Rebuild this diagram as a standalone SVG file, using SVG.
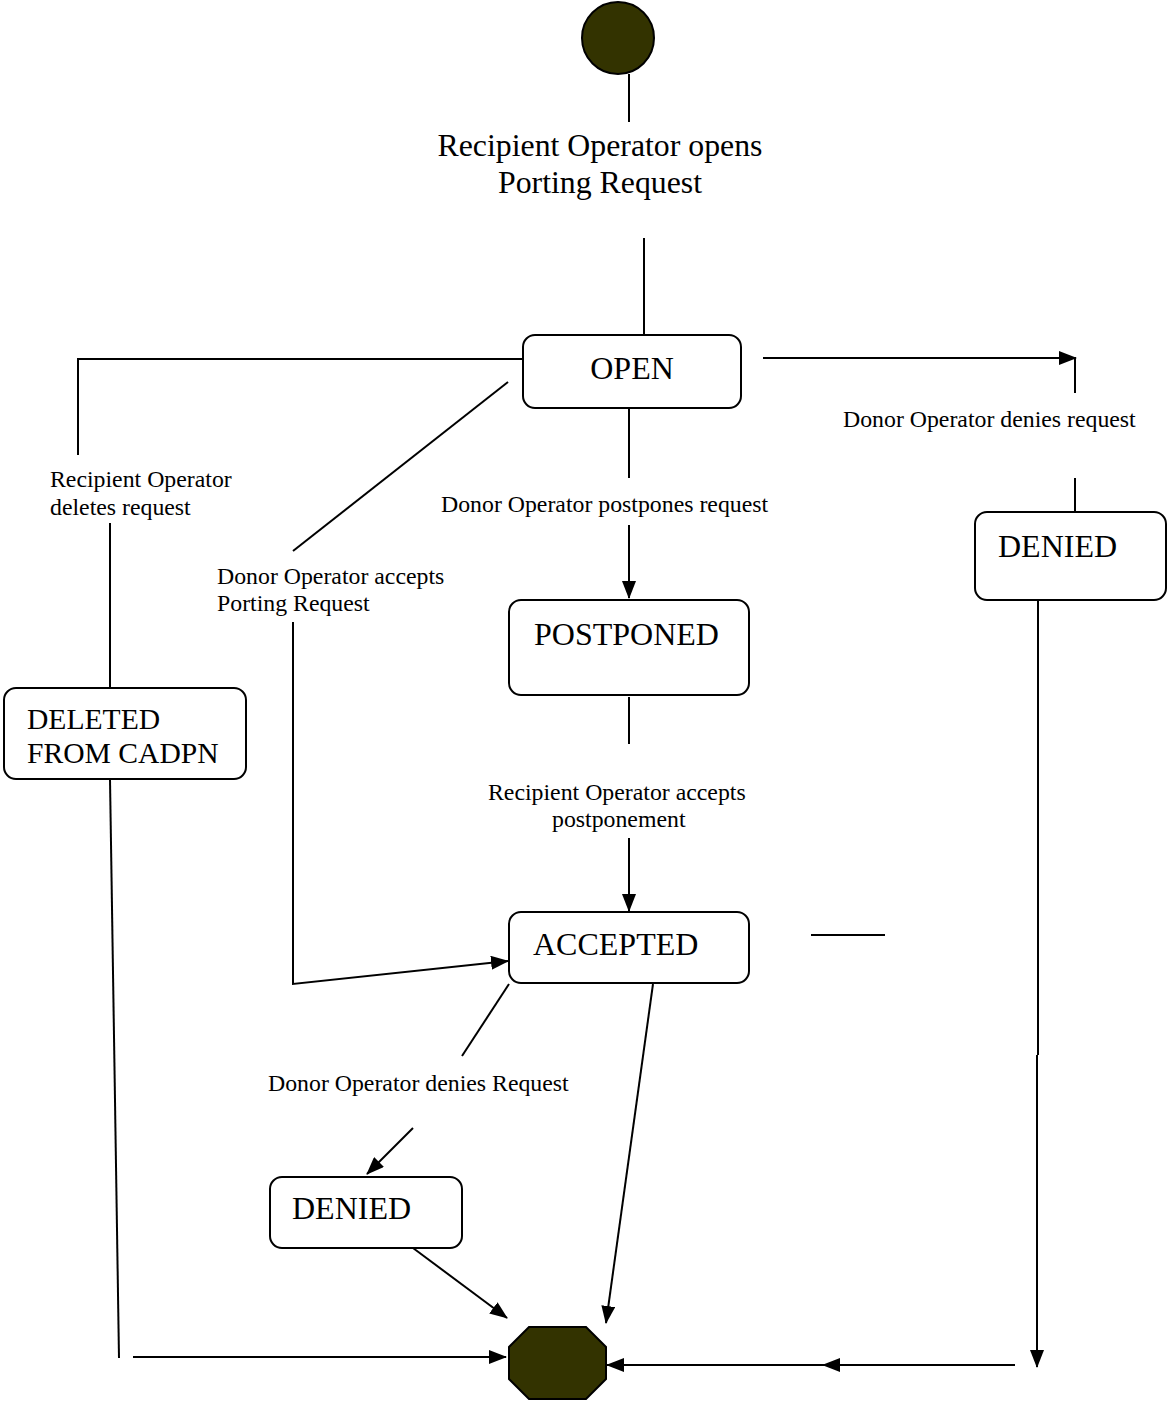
<svg xmlns="http://www.w3.org/2000/svg" width="1167" height="1402" viewBox="0 0 1167 1402">
<style>
.st{fill:#fff;stroke:#000;stroke-width:2}
.ln{fill:none;stroke:#000;stroke-width:2}
.big{font-family:"Liberation Serif",serif;font-size:31.8px;fill:#000}
.sm{font-family:"Liberation Serif",serif;font-size:23.8px;fill:#000}
.mid{font-family:"Liberation Serif",serif;font-size:32px;fill:#000}
.del{font-family:"Liberation Serif",serif;font-size:29.6px;fill:#000}
</style>
<defs>
<marker id="ah" markerWidth="18" markerHeight="14" refX="17" refY="7" orient="auto" markerUnits="userSpaceOnUse">
<path d="M0,0 L18,7 L0,14 Z" fill="#000"/>
</marker>
</defs>
<rect width="1167" height="1402" fill="#fff"/>

<g id="start">
<circle cx="618" cy="38" r="36" fill="#333300" stroke="#000" stroke-width="2"/>
</g>
<g id="label-open-request">
<text class="big" x="600" y="156" text-anchor="middle">Recipient Operator opens</text>
<text class="big" x="600" y="193" text-anchor="middle">Porting Request</text>
</g>

<g id="open">
<rect class="st" x="523" y="335" width="218" height="73" rx="12"/>
<text class="mid" x="632" y="379" text-anchor="middle">OPEN</text>
</g>
<g id="postponed">
<rect class="st" x="509" y="600" width="240" height="95" rx="12"/>
<text class="mid" x="534" y="645">POSTPONED</text>
</g>
<g id="accepted">
<rect class="st" x="509" y="912" width="240" height="71" rx="12"/>
<text class="mid" x="533" y="955">ACCEPTED</text>
</g>
<g id="deleted">
<rect class="st" x="4" y="688" width="242" height="91" rx="12"/>
<text class="del" x="27" y="729">DELETED</text>
<text class="del" x="27" y="763">FROM CADPN</text>
</g>
<g id="denied-right">
<rect class="st" x="975" y="512" width="191" height="88" rx="12"/>
<text class="mid" x="998" y="557">DENIED</text>
</g>
<g id="denied-bottom">
<rect class="st" x="270" y="1177" width="192" height="71" rx="12"/>
<text class="mid" x="292" y="1219">DENIED</text>
</g>
<g id="end">
<polygon points="529,1327 586,1327 606,1347 606,1379 586,1399 529,1399 509,1379 509,1347" fill="#333300" stroke="#000" stroke-width="2"/>
</g>

<g id="labels">
<text class="sm" x="50" y="487">Recipient Operator</text>
<text class="sm" x="50" y="515">deletes request</text>
<text class="sm" x="217" y="584">Donor Operator accepts</text>
<text class="sm" x="217" y="611">Porting Request</text>
<text class="sm" x="441" y="512">Donor Operator postpones request</text>
<text class="sm" x="843" y="427">Donor Operator denies request</text>
<text class="sm" x="488" y="800">Recipient Operator accepts</text>
<text class="sm" x="552" y="827">postponement</text>
<text class="sm" x="268" y="1091">Donor Operator denies Request</text>
</g>

<g id="connectors">
<line class="ln" x1="629" y1="74" x2="629" y2="122"/>
<line class="ln" x1="644" y1="238" x2="644" y2="335"/>
<polyline class="ln" points="523,359 78,359 78,455"/>
<line class="ln" x1="110" y1="523" x2="110" y2="688"/>
<line class="ln" x1="110" y1="779" x2="119" y2="1358"/>
<line class="ln" x1="133" y1="1357" x2="506" y2="1357" marker-end="url(#ah)"/>
<line class="ln" x1="508" y1="382" x2="293" y2="551"/>
<polyline class="ln" points="293,622 293,984 508,961" marker-end="url(#ah)"/>
<line class="ln" x1="629" y1="408" x2="629" y2="478"/>
<line class="ln" x1="629" y1="525" x2="629" y2="598" marker-end="url(#ah)"/>
<line class="ln" x1="629" y1="697" x2="629" y2="744"/>
<line class="ln" x1="629" y1="838" x2="629" y2="911" marker-end="url(#ah)"/>
<line class="ln" x1="811" y1="935" x2="885" y2="935"/>
<line class="ln" x1="509" y1="984" x2="462" y2="1056"/>
<line class="ln" x1="413" y1="1128" x2="367" y2="1174" marker-end="url(#ah)"/>
<line class="ln" x1="413" y1="1248" x2="507" y2="1318" marker-end="url(#ah)"/>
<line class="ln" x1="653" y1="984" x2="606" y2="1323" marker-end="url(#ah)"/>
<line class="ln" x1="763" y1="358" x2="1076" y2="358" marker-end="url(#ah)"/>
<line class="ln" x1="1075" y1="358" x2="1075" y2="393"/>
<line class="ln" x1="1075" y1="478" x2="1075" y2="512"/>
<line class="ln" x1="1038" y1="600" x2="1038" y2="1055"/>
<line class="ln" x1="1037" y1="1055" x2="1037" y2="1367" marker-end="url(#ah)"/>
<line class="ln" x1="1015" y1="1365" x2="823" y2="1365" marker-end="url(#ah)"/>
<line class="ln" x1="826" y1="1365" x2="607" y2="1365" marker-end="url(#ah)"/>
</g>
</svg>
